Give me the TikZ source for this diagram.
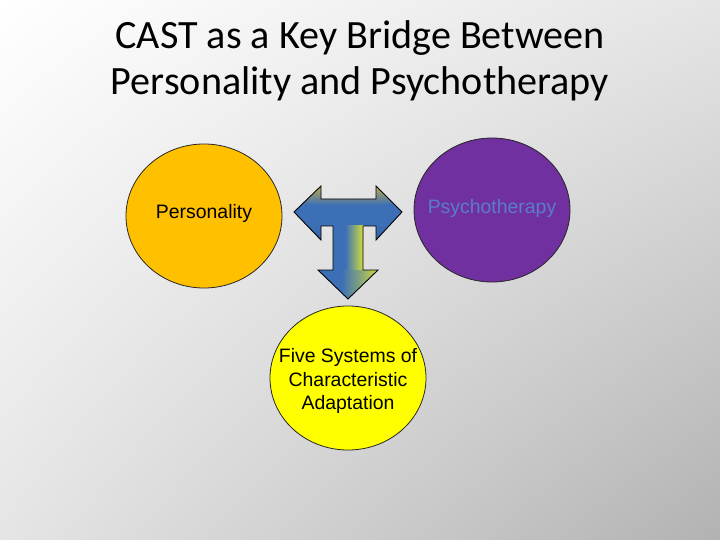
\documentclass[tikz,border=0pt]{standalone}
\usepackage{fontspec}
\setmainfont{Liberation Sans}
\newfontfamily\titlefont{Carlito}
\usetikzlibrary{shapes.geometric,shadings}
\definecolor{bgmid}{HTML}{E5E5E5}
\definecolor{bgdark}{HTML}{B2B2B2}
\definecolor{persfill}{HTML}{FFC000}
\definecolor{psyfill}{HTML}{7030A0}
\definecolor{psytext}{HTML}{5B7BCC}
\definecolor{fivefill}{HTML}{FFFF00}
\definecolor{arrblue}{HTML}{3D6FB6}
\definecolor{arrdark}{HTML}{35619F}
\definecolor{arrgold}{HTML}{CDB040}
\definecolor{arrlime}{HTML}{D4E03A}
\pgfdeclareverticalshading{barshade}{100bp}{color(0bp)=(arrdark); color(25bp)=(arrdark); color(40bp)=(arrblue); color(57bp)=(arrblue); color(75bp)=(arrgold); color(100bp)=(arrgold)}
\pgfdeclarehorizontalshading{stemshade}{100bp}{color(0bp)=(arrblue); color(45bp)=(arrblue); color(75bp)=(arrlime); color(100bp)=(arrlime)}
\tikzset{
  bubble/.style={ellipse, draw=black!85, line width=0.8bp, minimum width=156bp, minimum height=144bp, inner sep=0pt},
  bubbletext/.style={align=center, inner sep=0pt, font=\fontsize{19.5}{24}\selectfont},
  titletext/.style={font=\titlefont\fontsize{40.3}{46}\selectfont, align=center, text=black, inner sep=0pt}
}
\begin{document}
\begin{tikzpicture}[x=1bp,y=-1bp]
\useasboundingbox (0,0) rectangle (720,540);
\shade[upper left=white, upper right=bgmid, lower left=bgmid, lower right=bgdark] (0,0) rectangle (720,540);
% title
\node[titletext, anchor=base] (t1) at (360,49) {CAST as a Key Bridge Between};
\node[titletext, anchor=base] (t2) at (360,95) {Personality and Psychotherapy};
% bubbles
\node[bubble, fill=persfill] (pers) at (204,216) {};
\node[bubble, fill=psyfill] (psy) at (492,210) {};
\node[bubble, fill=fivefill] (five) at (348,378) {};
\node[bubbletext] (perst) at (204,213) {Personality};
\node[bubbletext, text=psytext] (psyt) at (492,208) {Psychotherapy};
\node[bubbletext] (fivet) at (348,381) {Five Systems of\\Characteristic\\Adaptation};
% block arrow
\def\arrowpath{(294,212) -- (321,186) -- (321,199) -- (376,199) -- (376,186) -- (402,212) -- (376,240) -- (376,226) -- (363,226) -- (363,270) -- (378,270) -- (348,299) -- (318,270) -- (333,270) -- (333,226) -- (321,226) -- (321,240) -- cycle}
\begin{scope}
  \clip \arrowpath;
  \shade[shading=barshade] (290,184) rectangle (406,242);
  \shade[shading=stemshade] (333,226) rectangle (363.5,270.5);
  \shade[shading=stemshade] (316,270) rectangle (380,301);
\end{scope}
\draw[black, line width=0.9bp, line join=miter] \arrowpath;
\end{tikzpicture}
\end{document}
